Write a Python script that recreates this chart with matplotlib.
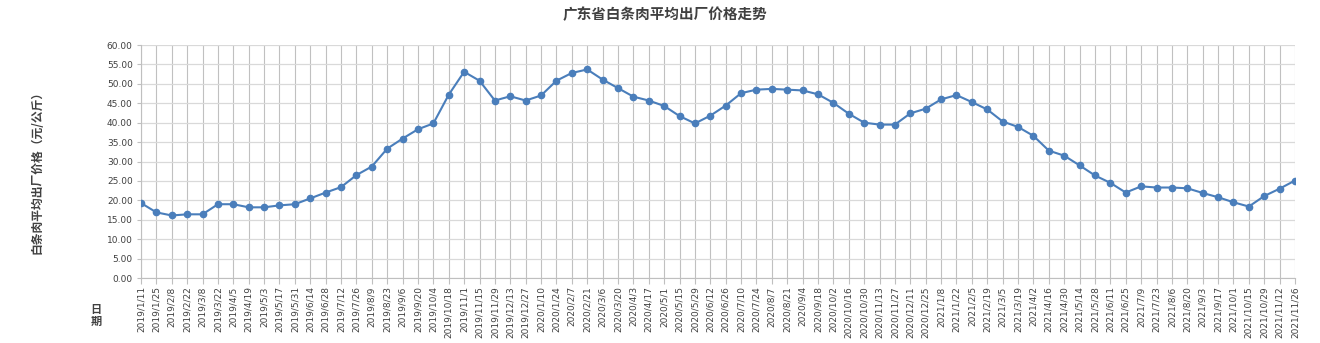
import matplotlib
matplotlib.use("Agg")
from matplotlib import pyplot as plt

plt.rcParams['font.family'] = ['DejaVu Sans', 'Noto Sans CJK SC']

dates = [
    "2019/1/11", "2019/1/25", "2019/2/8", "2019/2/22", "2019/3/8", "2019/3/22",
    "2019/4/5", "2019/4/19", "2019/5/3", "2019/5/17", "2019/5/31", "2019/6/14",
    "2019/6/28", "2019/7/12", "2019/7/26", "2019/8/9", "2019/8/23", "2019/9/6",
    "2019/9/20", "2019/10/4", "2019/10/18", "2019/11/1", "2019/11/15", "2019/11/29",
    "2019/12/13", "2019/12/27",
    "2020/1/10", "2020/1/24", "2020/2/7", "2020/2/21", "2020/3/6", "2020/3/20",
    "2020/4/3", "2020/4/17", "2020/5/1", "2020/5/15", "2020/5/29", "2020/6/12",
    "2020/6/26", "2020/7/10", "2020/7/24", "2020/8/7", "2020/8/21", "2020/9/4",
    "2020/9/18", "2020/10/2", "2020/10/16", "2020/10/30", "2020/11/13", "2020/11/27",
    "2020/12/11", "2020/12/25",
    "2021/1/8", "2021/1/22", "2021/2/5", "2021/2/19", "2021/3/5", "2021/3/19",
    "2021/4/2", "2021/4/16", "2021/4/30", "2021/5/14", "2021/5/28", "2021/6/11",
    "2021/6/25", "2021/7/9", "2021/7/23", "2021/8/6", "2021/8/20", "2021/9/3",
    "2021/9/17", "2021/10/1", "2021/10/15", "2021/10/29", "2021/11/12", "2021/11/26",
]

prices = [
    19.3, 16.9, 16.1, 16.4, 16.4, 19.0, 19.0, 18.2, 18.2, 18.7, 19.0, 20.5,
    22.0, 23.4, 26.5, 28.7, 33.3, 35.9, 38.3, 39.8, 47.2, 53.1, 50.8, 45.7,
    46.8, 45.7,
    47.0, 50.8, 52.8, 53.7, 51.1, 48.9, 46.7, 45.7, 44.3, 41.7, 39.8, 41.8,
    44.4, 47.6, 48.5, 48.7, 48.5, 48.3, 47.3, 45.1, 42.3, 40.0, 39.5, 39.5,
    42.4, 43.6,
    46.0, 47.1, 45.3, 43.4, 40.3, 38.9, 36.6, 32.8, 31.5, 29.0, 26.4, 24.5,
    22.0, 23.6, 23.3, 23.3, 23.1, 21.9, 20.8, 19.5, 18.4, 21.1, 23.0, 25.1,
]

yticks = [5 * i for i in range(13)]

W, H = 1320, 343
fig = plt.figure(figsize=(W / 100, H / 100), dpi=100)
ax = fig.add_axes([141 / W, 1 - 278 / H, (1295 - 141) / W, (278 - 45) / H])

x = list(range(len(dates)))
ax.plot(x, prices, color='#4a7ebb', linewidth=1.5, marker='o', markersize=4.5,
        zorder=3)

ax.set_xlim(0, len(dates) - 1)
ax.set_ylim(0, 60)
ax.set_yticks(yticks)
ax.set_yticklabels(["%.2f" % v for v in yticks], fontsize=6.5, color='#404040')
ax.set_xticks(x)
ax.set_xticklabels(dates, rotation=90, fontsize=6.5, color='#404040')

ax.grid(axis='y', color='#d9d9d9', linewidth=0.9)
ax.grid(axis='x', color='#c0c0c0', linewidth=0.8)
ax.set_axisbelow(True)
for side in ['top', 'right']:
    ax.spines[side].set_visible(False)
ax.spines['left'].set_color('#bfbfbf')
ax.spines['bottom'].set_color('#bfbfbf')
ax.tick_params(axis='x', length=4, color='#bfbfbf', pad=2)
ax.tick_params(axis='y', length=3, color='#bfbfbf', pad=3)

cjk = ['Noto Sans CJK SC', 'DejaVu Sans']
fig.text(665 / W, 1 - 14 / H, "广东省白条肉平均出厂价格走势", family=cjk,
         fontsize=10.5, fontweight='bold', color='#404040', ha='center', va='center')
fig.text(37 / W, 1 - 169 / H, "白条肉平均出厂价格（元/公斤）", family=cjk,
         fontsize=8.5, fontweight='bold', color='#404040', rotation=90,
         ha='center', va='center')
fig.text(96 / W, 1 - 309 / H, "日", family=cjk, fontsize=8,
         fontweight='bold', color='#404040', ha='center', va='center')
fig.text(96 / W, 1 - 321 / H, "期", family=cjk, fontsize=8,
         fontweight='bold', color='#404040', ha='center', va='center')

fig.savefig("out.png", dpi=100)
